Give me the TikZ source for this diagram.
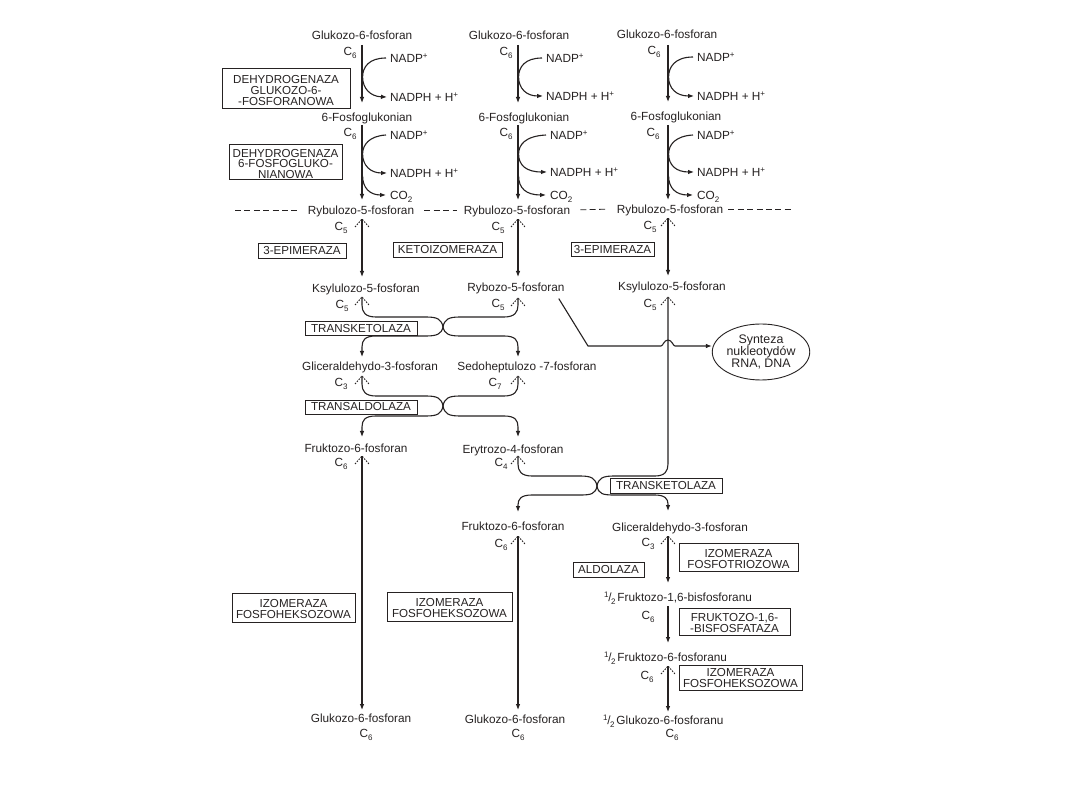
\documentclass[tikz,border=0pt]{standalone}
\usepackage{fontspec}
\setmainfont{Liberation Sans}
\usetikzlibrary{arrows.meta,shapes.geometric}
\definecolor{ink}{RGB}{38,34,34}
\newcommand\mylo[1]{\raisebox{-2.6pt}{\fontsize{8}{8}\selectfont #1}}
\newcommand\myhi[1]{\raisebox{3.8pt}{\fontsize{8}{8}\selectfont #1}}
\newcommand\myhalf{\myhi{1}\kern-0.3pt/\kern-0.6pt\mylo{2}\kern2pt}
\newcommand\wings[1]{\draw[wing] (#1) ++(-7,8) -- (#1) -- ++(7,8);}
\tikzset{
 lbl/.style={font=\fontsize{11.8}{11.8}\selectfont, text=ink, inner sep=0pt, text height=8.3pt, text depth=2.4pt, yshift=-1.5pt},
 enz/.style={draw=ink, line width=0.9pt, font=\fontsize{11.6}{11}\selectfont, text=ink, align=center, inner sep=1pt},
 enztxt/.style={font=\fontsize{11.6}{11}\selectfont, text=ink, align=center, inner sep=0pt, yshift=-2pt},
 enzm/.style={draw=ink, line width=0.9pt, inner sep=0pt},
 arr/.style={draw=ink, line width=1.1pt, -{Latex[length=6pt,width=4.6pt]}},
 ln/.style={draw=ink, line width=1.1pt},
 wing/.style={draw=ink, line width=0.9pt, dash pattern=on 1.5pt off 1.3pt},
 ribdash/.style={draw=ink, line width=0.8pt, dash pattern=on 6pt off 3.4pt},
}
\begin{document}
\begin{tikzpicture}[x=1pt,y=-1pt]
\useasboundingbox (0,0) rectangle (1080,810);
\fill[white] (0,0) rectangle (1080,810);

% ---------- row 1 ----------
\node[lbl] (g1) at (362,35) {Glukozo-6-fosforan};
\node[lbl] (g2) at (519,35) {Glukozo-6-fosforan};
\node[lbl] (g3) at (667,34) {Glukozo-6-fosforan};
\node[lbl] (ca1) at (350,51) {C\mylo{6}};
\node[lbl] (ca2) at (506,51) {C\mylo{6}};
\node[lbl] (ca3) at (654,50) {C\mylo{6}};
\node[lbl,anchor=west] (n1a) at (390,58) {NADP\myhi{+}};
\node[lbl,anchor=west] (n2a) at (546,58) {NADP\myhi{+}};
\node[lbl,anchor=west] (n3a) at (697,57) {NADP\myhi{+}};
\node[lbl,anchor=west] (n1b) at (390,97) {NADPH + H\myhi{+}};
\node[lbl,anchor=west] (n2b) at (546,96) {NADPH + H\myhi{+}};
\node[lbl,anchor=west] (n3b) at (697,96) {NADPH + H\myhi{+}};

\node[lbl] (f1) at (367,117) {6-Fosfoglukonian};
\node[lbl] (f2) at (524,117) {6-Fosfoglukonian};
\node[lbl] (f3) at (676,116) {6-Fosfoglukonian};

\coordinate (a1s) at (362,45); \coordinate (a1e) at (362,103);
\coordinate (a2s) at (518,45); \coordinate (a2e) at (518,103);
\coordinate (a3s) at (668,45); \coordinate (a3e) at (668,102);
\draw[arr] (a1s) -- (a1e);
\draw[arr] (a2s) -- (a2e);
\draw[arr] (a3s) -- (a3e);

\draw[arr] ([xshift=-4pt,yshift=1.5pt]n1a.west) .. controls (369,58) and (362.6,67) .. (362.6,77) .. controls (362.6,88) and (370,96.5) .. ([xshift=-3pt,yshift=1.5pt]n1b.west);
\draw[arr] ([xshift=-4pt,yshift=1.5pt]n2a.west) .. controls (525,58) and (518.6,67) .. (518.6,77) .. controls (518.6,88) and (526,96) .. ([xshift=-3pt,yshift=1.5pt]n2b.west);
\draw[arr] ([xshift=-4pt,yshift=1.5pt]n3a.west) .. controls (675,57) and (668.6,67) .. (668.6,77) .. controls (668.6,88) and (676,96) .. ([xshift=-3pt,yshift=1.5pt]n3b.west);

\node[enzm, minimum width=128pt, minimum height=40pt, label={[enztxt,yshift=-0.8pt]center:{DEHYDROGENAZA\\GLUKOZO-6-\\-FOSFORANOWA}}] (e1) at (286,88) {};

% ---------- row 2 ----------
\node[lbl] (cb1) at (350,132) {C\mylo{6}};
\node[lbl] (cb2) at (506,132) {C\mylo{6}};
\node[lbl] (cb3) at (653,132) {C\mylo{6}};
\node[lbl,anchor=west] (m1a) at (390,135) {NADP\myhi{+}};
\node[lbl,anchor=west] (m2a) at (550,135) {NADP\myhi{+}};
\node[lbl,anchor=west] (m3a) at (697,135) {NADP\myhi{+}};
\node[lbl,anchor=west] (m1b) at (390,173) {NADPH + H\myhi{+}};
\node[lbl,anchor=west] (m2b) at (550,172) {NADPH + H\myhi{+}};
\node[lbl,anchor=west] (m3b) at (697,172) {NADPH + H\myhi{+}};
\node[lbl,anchor=west] (o1) at (390,195) {CO\mylo{2}};
\node[lbl,anchor=west] (o2) at (550,195) {CO\mylo{2}};
\node[lbl,anchor=west] (o3) at (697,195) {CO\mylo{2}};

\coordinate (b1s) at (362,125); \coordinate (b1e) at (362,200);
\coordinate (b2s) at (518,125); \coordinate (b2e) at (518,200);
\coordinate (b3s) at (668,125); \coordinate (b3e) at (668,200);
\draw[arr] (b1s) -- (b1e);
\draw[arr] (b2s) -- (b2e);
\draw[arr] (b3s) -- (b3e);

\draw[arr] ([xshift=-4pt,yshift=1.5pt]m1a.west) .. controls (369,136) and (362.6,145) .. (362.6,154) .. controls (362.6,165) and (370,173) .. ([xshift=-3pt,yshift=1.5pt]m1b.west);
\draw[arr] (362.6,176) .. controls (362.6,188) and (370,195) .. ([xshift=-4pt,yshift=1.5pt]o1.west);
\draw[arr] ([xshift=-4pt,yshift=1.5pt]m2a.west) .. controls (525,136) and (518.6,145) .. (518.6,154) .. controls (518.6,165) and (526,172) .. ([xshift=-3pt,yshift=1.5pt]m2b.west);
\draw[arr] (518.6,176) .. controls (518.6,188) and (526,195) .. ([xshift=-4pt,yshift=1.5pt]o2.west);
\draw[arr] ([xshift=-4pt,yshift=1.5pt]m3a.west) .. controls (675,136) and (668.6,145) .. (668.6,154) .. controls (668.6,165) and (676,172) .. ([xshift=-3pt,yshift=1.5pt]m3b.west);
\draw[arr] (668.6,176) .. controls (668.6,188) and (676,195) .. ([xshift=-4pt,yshift=1.5pt]o3.west);

\node[enzm, minimum width=113pt, minimum height=35pt, label={[enztxt,yshift=-0.5pt,font=\fontsize{11.6}{10.4}\selectfont]center:{DEHYDROGENAZA\\6-FOSFOGLUKO-\\NIANOWA}}] (e2) at (285.5,161.5) {};

% ---------- rybulozo row ----------
\node[lbl] (r1) at (361,210) {Rybulozo-5-fosforan};
\node[lbl] (r2) at (517,210) {Rybulozo-5-fosforan};
\node[lbl] (r3) at (670,209) {Rybulozo-5-fosforan};
\coordinate (dl) at (235,210);
\coordinate (dr) at (793,209);
\draw[ribdash] (dl) -- ([xshift=-8pt,yshift=1.5pt]r1.west);
\draw[ribdash, shorten <=10pt, shorten >=7pt] ([yshift=1.5pt]r1.east) -- ([yshift=1.5pt]r2.west);
\draw[ribdash, shorten <=10pt, shorten >=11pt] ([yshift=1.5pt]r2.east) -- ([yshift=1.5pt]r3.west);
\draw[ribdash] ([xshift=5pt,yshift=1.5pt]r3.east) -- (dr);

\node[lbl] (cc1) at (341,226) {C\mylo{5}};
\node[lbl] (cc2) at (498,226) {C\mylo{5}};
\node[lbl] (cc3) at (650,225) {C\mylo{5}};
\coordinate (t1) at (362,219); \coordinate (t1e) at (362,277);
\coordinate (t2) at (518,219); \coordinate (t2e) at (518,277);
\coordinate (t3) at (668,218); \coordinate (t3e) at (668,276);
\draw[arr] (t1) -- (t1e); \wings{t1}
\draw[arr] (t2) -- (t2e); \wings{t2}
\draw[arr] (t3) -- (t3e); \wings{t3}

\node[enz, minimum width=88pt, minimum height=15pt] (ep1) at (302,250.5) {3-EPIMERAZA};
\node[enz, minimum width=109pt, minimum height=15pt] (ket) at (447.5,249.5) {KETOIZOMERAZA};
\node[enz, minimum width=83pt, minimum height=14pt] (ep3) at (612.5,249.5) {3-EPIMERAZA};

% ---------- ksylulozo row ----------
\node[lbl] (k1) at (366,288) {Ksylulozo-5-fosforan};
\node[lbl] (rb2) at (516,287) {Rybozo-5-fosforan};
\node[lbl] (k3) at (672,286) {Ksylulozo-5-fosforan};
\node[lbl] (cd1) at (342,304) {C\mylo{5}};
\node[lbl] (cd2) at (498,303) {C\mylo{5}};
\node[lbl] (cd3) at (650,303) {C\mylo{5}};
\coordinate (u1) at (362,297);
\coordinate (u2) at (518,298);
\coordinate (u3) at (668,297);
\wings{u1} \wings{u2} \wings{u3}

% transketolaza 1
\coordinate (w1) at (443,327);
\coordinate (x1e) at (362,357);
\coordinate (x2e) at (518,357);
\draw[ln] (w1) .. controls (441.5,319) and (437,317) .. (426,317) -- (376,317) .. controls (365,317) and (362,312) .. (362,305) -- (u1);
\draw[ln] (w1) .. controls (444.5,319) and (449,317) .. (460,317) -- (504,317) .. controls (515,317) and (518,312) .. (518,305) -- (u2);
\draw[arr] (w1) .. controls (441.5,334) and (437,336) .. (426,336) -- (376,336) .. controls (365,336) and (362,340) .. (362,347) -- (x1e);
\draw[arr] (w1) .. controls (444.5,334) and (449,336) .. (460,336) -- (504,336) .. controls (515,336) and (518,340) .. (518,347) -- (x2e);
\node[enz, minimum width=112pt, minimum height=14pt] (tk1) at (361,328.5) {TRANSKETOLAZA};

% ---------- gliceraldehydo row ----------
\node[lbl] (gl1) at (370,366) {Gliceraldehydo-3-fosforan};
\node[lbl] (s2) at (527,366) {Sedoheptulozo -7-fosforan};
\node[lbl] (ce1) at (341,382) {C\mylo{3}};
\node[lbl] (ce2) at (495,382) {C\mylo{7}};
\coordinate (v1) at (362,376);
\coordinate (v2) at (518,376);
\wings{v1} \wings{v2}

% transaldolaza
\coordinate (w2) at (443,406);
\coordinate (y1e) at (362,437);
\coordinate (y2e) at (518,437);
\draw[ln] (w2) .. controls (441.5,398) and (437,396) .. (426,396) -- (376,396) .. controls (365,396) and (362,391) .. (362,384) -- (v1);
\draw[ln] (w2) .. controls (444.5,398) and (449,396) .. (460,396) -- (504,396) .. controls (515,396) and (518,391) .. (518,384) -- (v2);
\draw[arr] (w2) .. controls (441.5,414) and (437,416) .. (426,416) -- (376,416) .. controls (365,416) and (362,420) .. (362,427) -- (y1e);
\draw[arr] (w2) .. controls (444.5,414) and (449,416) .. (460,416) -- (504,416) .. controls (515,416) and (518,420) .. (518,427) -- (y2e);
\node[enz, minimum width=112pt, minimum height=14pt] (ta) at (361,407) {TRANSALDOLAZA};

% ---------- fruktozo / erytrozo row ----------
\node[lbl] (fr1) at (356,448) {Fruktozo-6-fosforan};
\node[lbl] (er2) at (513,449) {Erytrozo-4-fosforan};
\node[lbl] (cf1) at (341,462) {C\mylo{6}};
\node[lbl] (cf2) at (501,462) {C\mylo{4}};
\coordinate (p1) at (362,456);
\coordinate (p2) at (518,456);
\wings{p1} \wings{p2}

% transketolaza 2
\coordinate (w3) at (597,486);
\coordinate (z2e) at (518,512);
\coordinate (z3e) at (668,511);
\draw[ln] (w3) .. controls (595.5,478) and (591,476) .. (580,476) -- (532,476) .. controls (521,476) and (518,471) .. (518,464) -- (p2);
\draw[arr] (w3) .. controls (595.5,494) and (591,495) .. (580,495) -- (532,495) .. controls (521,495) and (518,499) .. (518,505) -- (z2e);
\draw[ln] (w3) .. controls (598.5,478) and (603,476) .. (614,476) -- (655,476) .. controls (665,476) and (668,471) .. (668,464) -- (u3);
\draw[arr] (w3) .. controls (598.5,494) and (603,495) .. (614,495) -- (655,495) .. controls (665,495) and (668,499) .. (668,504) -- (z3e);
\node[enz, minimum width=112pt, minimum height=15pt] (tk2) at (666,485.5) {TRANSKETOLAZA};

% synteza
\node[ellipse, draw=ink, line width=0.9pt, minimum width=78pt, minimum height=56pt, inner sep=0pt, align=center, text=ink, font=\fontsize{12.4}{11}\selectfont] (sy) at (761,352) {Synteza\\nukleotydów\\RNA, DNA};
\draw[arr] ([xshift=-6pt,yshift=-4.5pt]rb2.south east) -- (588,346) -- (661,346) .. controls (663,346) and (664,340) .. (668,340) .. controls (672,340) and (673,346) .. (675,346) -- ([yshift=6pt]sy.west);

% ---------- lower part ----------
\node[lbl] (fr2) at (513,526) {Fruktozo-6-fosforan};
\node[lbl] (gl3) at (680,527) {Gliceraldehydo-3-fosforan};
\node[lbl] (cg2) at (501,543) {C\mylo{6}};
\node[lbl] (cg3) at (648,542) {C\mylo{3}};
\coordinate (q2) at (518,536);
\coordinate (q3) at (668,536);
\wings{q2} \wings{q3}

\coordinate (L1e) at (362,710);
\coordinate (L2e) at (518,710);
\draw[arr] (p1) -- (L1e);
\draw[arr] (q2) -- (L2e);
\coordinate (q3e) at (668,583);
\draw[arr] (q3) -- (q3e);

\node[enzm, minimum width=123pt, minimum height=29pt, label={[enztxt,yshift=0.3pt]center:{IZOMERAZA\\FOSFOHEKSOZOWA}}] (iz1) at (293.5,607.5) {};
\node[enzm, minimum width=125pt, minimum height=29pt, label={[enztxt,yshift=0.3pt]center:{IZOMERAZA\\FOSFOHEKSOZOWA}}] (iz2) at (449.5,606.5) {};
\node[enzm, minimum width=119pt, minimum height=28pt, label={[enztxt,yshift=0.3pt]center:{IZOMERAZA\\FOSFOTRIOZOWA}}] (izt) at (738.5,557) {};
\node[enz, minimum width=71pt, minimum height=15pt] (ald) at (608.5,569.5) {ALDOLAZA};

\node[lbl,anchor=west] (h1) at (604,597) {\myhalf Fruktozo-1,6-bisfosforanu};
\node[lbl] (ch1) at (648,615) {C\mylo{6}};
\coordinate (h1s) at (668,606); \coordinate (h1e) at (668,643);
\draw[arr] (h1s) -- (h1e);
\node[enzm, minimum width=111pt, minimum height=27pt, label={[enztxt,yshift=0.3pt]center:{FRUKTOZO-1,6-\\-BISFOSFATAZA}}] (fb) at (734.5,621.5) {};

\node[lbl,anchor=west] (h2) at (604,657) {\myhalf Fruktozo-6-fosforanu};
\node[lbl] (ch2) at (647,675) {C\mylo{6}};
\coordinate (h2t) at (668,666); \coordinate (h2e) at (668,712);
\draw[arr] (h2t) -- (h2e); \wings{h2t}
\node[enzm, minimum width=123pt, minimum height=25pt, label={[enztxt,yshift=1pt]center:{IZOMERAZA\\FOSFOHEKSOZOWA}}] (iz3) at (740.5,677.5) {};

\node[lbl,anchor=west] (h3) at (603,720) {\myhalf Glukozo-6-fosforanu};
\node[lbl] (ch3) at (672,733) {C\mylo{6}};

\node[lbl] (gk1) at (361,718) {Glukozo-6-fosforan};
\node[lbl] (gk2) at (515,719) {Glukozo-6-fosforan};
\node[lbl] (ck1) at (366,733) {C\mylo{6}};
\node[lbl] (ck2) at (518,733) {C\mylo{6}};
\end{tikzpicture}
\end{document}
